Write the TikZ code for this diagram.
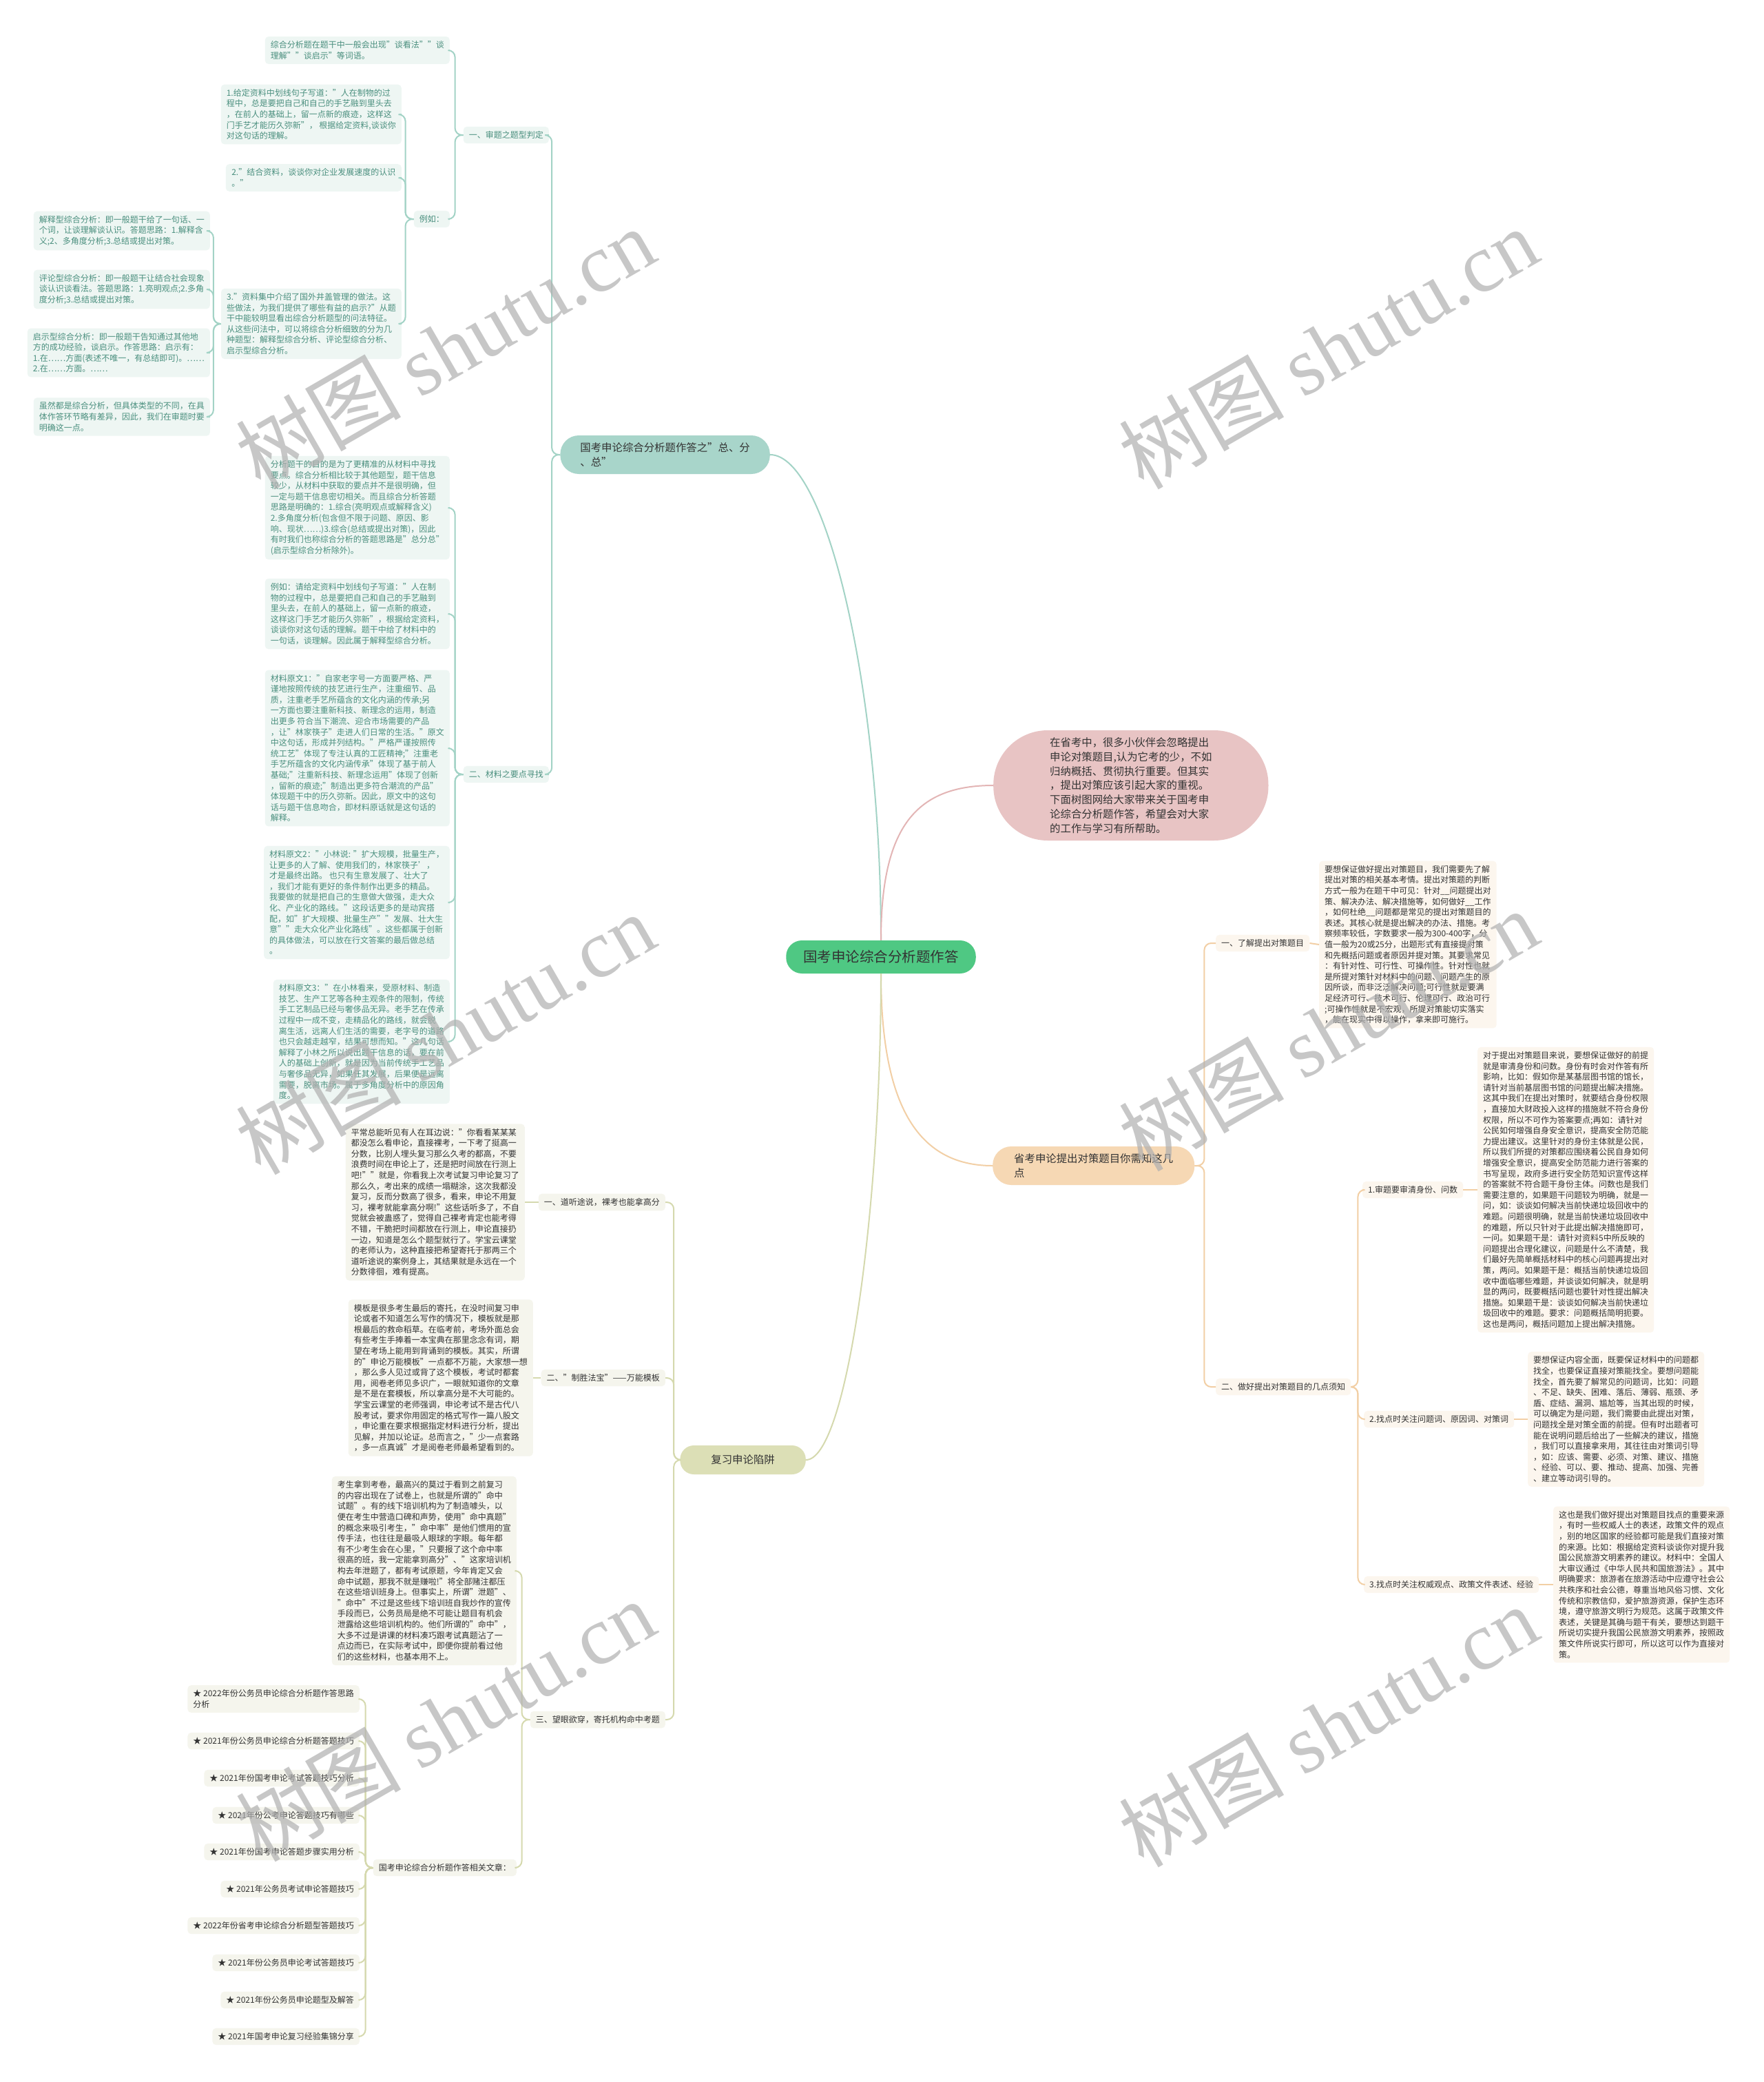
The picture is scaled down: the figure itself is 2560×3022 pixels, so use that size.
\documentclass[tikz,border=0pt]{standalone}
\usepackage{fontspec}
\setmainfont{Noto Sans CJK SC}
\newfontfamily\wmfont{Liberation Serif}

\definecolor{rootfill}{HTML}{4FC883}
\definecolor{tealmain}{HTML}{A8D5CA}
\definecolor{pinkmain}{HTML}{E8C4C4}
\definecolor{peachmain}{HTML}{F6D8B4}
\definecolor{olivemain}{HTML}{DCDFB6}
\definecolor{tealsub}{HTML}{EEF6F3}
\definecolor{olivesub}{HTML}{F5F5ED}
\definecolor{peachsub}{HTML}{FCF6EE}
\definecolor{tealline}{HTML}{A3D3C6}
\definecolor{pinkline}{HTML}{E3B5B5}
\definecolor{peachline}{HTML}{F2CFA5}
\definecolor{oliveline}{HTML}{D5D9AE}
\definecolor{tealtext}{HTML}{4A8F7E}
\definecolor{darktext}{HTML}{333333}
\definecolor{wmgray}{HTML}{B0B0B0}

\newcommand\leafsize{\fontsize{12}{15.6}\selectfont}
\newcommand\topicsize{\fontsize{15.4}{21}\selectfont}

\begin{document}
\begin{tikzpicture}[x=1pt,y=-1pt,
  leaf/.style={rounded corners=5pt,align=left,inner xsep=8pt,inner ysep=6.5pt,font=\leafsize},
  tealleaf/.style={leaf,fill=tealsub,text=tealtext},
  oliveleaf/.style={leaf,fill=olivesub,text=darktext},
  peachleaf/.style={leaf,fill=peachsub,text=darktext},
  topic/.style={align=left,text=darktext,font=\topicsize,inner xsep=29pt,inner ysep=9pt,minimum height=56pt,rounded corners=27pt},
  link/.style={line width=2pt,rounded corners=10pt},
  teallink/.style={link,draw=tealline},
  olivelink/.style={link,draw=oliveline},
  peachlink/.style={link,draw=peachline},
  wm/.style={rotate=30,text=wmgray,text opacity=0.7,font=\fontsize{120}{120}\selectfont}]
  \fill[white] (0,0) rectangle (2560,3022);
  \useasboundingbox (0,0) rectangle (2560,3022);

  % centro
  \node[fill=rootfill,text=darktext,font=\fontsize{20.5}{24}\selectfont,minimum height=48pt,inner xsep=25pt,inner ysep=6pt,rounded corners=23pt] (root) at (1279,1389) {国考申论综合分析题作答};

  % ramas principales
  \node[topic,fill=tealmain,anchor=east] (zfz) at (1118,660) {国考申论综合分析题作答之"总、分\\、总"};
  \node[fill=pinkmain,text=darktext,font=\fontsize{15.4}{20.8}\selectfont,align=left,inner xsep=82pt,inner ysep=9pt,minimum height=160pt,rounded corners=79pt,anchor=west] (yin) at (1442,1140) {在省考中，很多小伙伴会忽略提出\\申论对策题目,认为它考的少，不如\\归纳概括、贯彻执行重要。但其实\\，提出对策应该引起大家的重视。\\下面树图网给大家带来关于国考申\\论综合分析题作答，希望会对大家\\的工作与学习有所帮助。};
  \node[topic,fill=peachmain,anchor=west,inner xsep=31pt] (sk) at (1441,1692) {省考申论提出对策题目你需知这几\\点};
  \node[topic,fill=olivemain,minimum height=42pt,rounded corners=20pt,inner xsep=45pt,anchor=east] (fx) at (1170,2119) {复习申论陷阱};

  \draw[line width=2pt,tealline] (root.north) .. controls (1279,1000) and (1200,660) .. (zfz.east);
  \draw[line width=2pt,pinkline] (root.north) .. controls (1279,1200) and (1330,1140) .. (yin.west);
  \draw[line width=2pt,peachline] (root.south) .. controls (1279,1600) and (1330,1692) .. (sk.west);
  \draw[line width=2pt,oliveline] (root.south) .. controls (1279,1750) and (1230,2119) .. (fx.east);

  % rama verde: total, partes, total
  \node[tealleaf,anchor=east] (st) at (797,196) {一、审题之题型判定};
  \node[tealleaf,anchor=east] (cl) at (797,1124) {二、材料之要点寻找};
  \node[tealleaf,anchor=east] (st1) at (653,73) {综合分析题在题干中一般会出现"谈看法""谈\\理解""谈启示"等词语。};
  \node[tealleaf,anchor=east] (lr) at (653,318) {例如：};
  \node[tealleaf,anchor=east] (lr1) at (583,166) {1.给定资料中划线句子写道："人在制物的过\\程中，总是要把自己和自己的手艺融到里头去\\，在前人的基础上，留一点新的痕迹，这样这\\门手艺才能历久弥新"， 根据给定资料,谈谈你\\对这句话的理解。};
  \node[tealleaf,anchor=east,minimum width=255pt] (lr2) at (583,258) {2."结合资料，谈谈你对企业发展速度的认识\\。"};
  \node[tealleaf,anchor=east] (lr3) at (583,470) {3."资料集中介绍了国外井盖管理的做法。这\\些做法，为我们提供了哪些有益的启示?"从题\\干中能较明显看出综合分析题型的问法特征。\\从这些问法中，可以将综合分析细致的分为几\\种题型：解释型综合分析、评论型综合分析、\\启示型综合分析。};
  \node[tealleaf,anchor=east] (lx1) at (305,335) {解释型综合分析：即一般题干给了一句话、一\\个词，让谈理解谈认识。答题思路：1.解释含\\义;2、多角度分析;3.总结或提出对策。};
  \node[tealleaf,anchor=east] (lx2) at (305,420) {评论型综合分析：即一般题干让结合社会现象\\谈认识谈看法。答题思路：1.亮明观点;2.多角\\度分析;3.总结或提出对策。};
  \node[tealleaf,anchor=east] (lx3) at (305,512) {启示型综合分析：即一般题干告知通过其他地\\方的成功经验，谈启示。作答思路：启示有：\\1.在……方面(表述不唯一，有总结即可)。……\\2.在……方面。……};
  \node[tealleaf,anchor=east] (lx4) at (305,605) {虽然都是综合分析，但具体类型的不同，在具\\体作答环节略有差异，因此，我们在审题时要\\明确这一点。};
  \node[tealleaf,anchor=east] (cl1) at (653,737) {分析题干的目的是为了更精准的从材料中寻找\\要点。综合分析相比较于其他题型，题干信息\\较少，从材料中获取的要点并不是很明确，但\\一定与题干信息密切相关。而且综合分析答题\\思路是明确的：1.综合(亮明观点或解释含义)\\2.多角度分析(包含但不限于问题、原因、影\\响、现状……)3.综合(总结或提出对策)，因此\\有时我们也称综合分析的答题思路是"总分总"\\(启示型综合分析除外)。};
  \node[tealleaf,anchor=east] (cl2) at (653,891) {例如：请给定资料中划线句子写道："人在制\\物的过程中，总是要把自己和自己的手艺融到\\里头去，在前人的基础上，留一点新的痕迹，\\这样这门手艺才能历久弥新"，根据给定资料，\\谈谈你对这句话的理解。题干中给了材料中的\\一句话，谈理解。因此属于解释型综合分析。};
  \node[tealleaf,anchor=east] (cl3) at (653,1086) {材料原文1："自家老字号一方面要严格、严\\谨地按照传统的技艺进行生产，注重细节、品\\质，注重老手艺所蕴含的文化内涵的传承;另\\一方面也要注重新科技、新理念的运用，制造\\出更多 符合当下潮流、迎合市场需要的产品\\，让"林家筷子"走进人们日常的生活。"原文\\中这句话，形成并列结构。"严格严谨按照传\\统工艺"体现了专注认真的工匠精神;"注重老\\手艺所蕴含的文化内涵传承"体现了基于前人\\基础;"注重新科技、新理念运用"体现了创新\\，留新的痕迹;"制造出更多符合潮流的产品"\\体现题干中的历久弥新。因此，原文中的这句\\话与题干信息吻合，即材料原话就是这句话的\\解释。};
  \node[tealleaf,anchor=east] (cl4) at (653,1310) {材料原文2："小林说: "扩大规模，批量生产，\\让更多的人了解、使用我们的，林家筷子'，\\才是最终出路。 也只有生意发展了、壮大了\\，我们才能有更好的条件制作出更多的精品。\\我要做的就是把自己的生意做大做强，走大众\\化、产业化的路线。"这段话更多的是动宾搭\\配，如"扩大规模、批量生产""发展、壮大生\\意""走大众化产业化路线"。这些都属于创新\\的具体做法，可以放在行文答案的最后做总结\\。};
  \node[tealleaf,anchor=east] (cl5) at (653,1512) {材料原文3："在小林看来，受原材料、制造\\技艺、生产工艺等各种主观条件的限制，传统\\手工艺制品已经与奢侈品无异。老手艺在传承\\过程中一成不变，走精品化的路线，就会脱\\离生活，远离人们生活的需要，老字号的道路\\也只会越走越窄，结果可想而知。"这几句话\\解释了小林之所以说出题干信息的话，要在前\\人的基础上创新，就是因为当前传统手工艺品\\与奢侈品无异，如果任其发展，后果便是远离\\需要，脱离市场。属于多角度分析中的原因角\\度。};

  \draw[teallink] (zfz.west) -- ++(-12,0) |- (st.east);
  \draw[teallink] (zfz.west) -- ++(-12,0) |- (cl.east);
  \draw[teallink] (st.west) -- ++(-12,0) |- (st1.east);
  \draw[teallink] (st.west) -- ++(-12,0) |- (lr.east);
  \draw[teallink] (lr.west) -- ++(-12,0) |- (lr1.east);
  \draw[teallink] (lr.west) -- ++(-12,0) |- (lr2.east);
  \draw[teallink] (lr.west) -- ++(-12,0) |- (lr3.east);
  \draw[teallink] (lr3.west) -- ++(-11,0) |- (lx1.east);
  \draw[teallink] (lr3.west) -- ++(-11,0) |- (lx2.east);
  \draw[teallink] (lr3.west) -- ++(-11,0) |- (lx3.east);
  \draw[teallink] (lr3.west) -- ++(-11,0) |- (lx4.east);
  \draw[teallink] (cl.west) -- ++(-12,0) |- (cl1.east);
  \draw[teallink] (cl.west) -- ++(-12,0) |- (cl2.east);
  \draw[teallink] (cl.west) -- ++(-12,0) |- (cl3.east);
  \draw[teallink] (cl.west) -- ++(-12,0) |- (cl4.east);
  \draw[teallink] (cl.west) -- ++(-12,0) |- (cl5.east);

  % rama naranja: contramedidas
  \node[peachleaf,anchor=west] (sk1) at (1765,1369) {一、了解提出对策题目};
  \node[peachleaf,anchor=west] (sk1a) at (1915,1371) {要想保证做好提出对策题目，我们需要先了解\\提出对策的相关基本考情。提出对策题的判断\\方式一般为在题干中可见：针对\_\_问题提出对\\策、解决办法、解决措施等，如何做好\_\_工作\\，如何杜绝\_\_问题都是常见的提出对策题目的\\表述。其核心就是提出解决的办法、措施。考\\察频率较低，字数要求一般为300-400字，分\\值一般为20或25分，出题形式有直接提对策\\和先概括问题或者原因并提对策。其要求常见\\：有针对性、可行性、可操作性。针对性也就\\是所提对策针对材料中的问题、问题产生的原\\因所谈，而非泛泛解决问题;可行性就是要满\\足经济可行、技术可行、伦理可行、政治可行\\;可操作性就是不宏观，所提对策能切实落实\\，能在现实中得以操作，拿来即可施行。};
  \node[peachleaf,anchor=west] (sk2) at (1765,2013) {二、做好提出对策题目的几点须知};
  \node[peachleaf,anchor=west] (sk2a) at (1978,1727) {1.审题要审清身份、问数};
  \node[peachleaf,anchor=west] (sk2a1) at (2145,1727) {对于提出对策题目来说，要想保证做好的前提\\就是审清身份和问数。身份有时会对作答有所\\影响，比如：假如你是某基层图书馆的馆长，\\请针对当前基层图书馆的问题提出解决措施。\\这其中我们在提出对策时，就要结合身份权限\\，直接加大财政投入这样的措施就不符合身份\\权限，所以不可作为答案要点;再如：请针对\\公民如何增强自身安全意识，提高安全防范能\\力提出建议。这里针对的身份主体就是公民，\\所以我们所提的对策都应围绕着公民自身如何\\增强安全意识，提高安全防范能力进行答案的\\书写呈现，政府多进行安全防范知识宣传这样\\的答案就不符合题干身份主体。问数也是我们\\需要注意的，如果题干问题较为明确，就是一\\问，如：谈谈如何解决当前快递垃圾回收中的\\难题。问题很明确，就是当前快递垃圾回收中\\的难题，所以只针对于此提出解决措施即可，\\一问。如果题干是：请针对资料5中所反映的\\问题提出合理化建议，问题是什么不清楚，我\\们最好先简单概括材料中的核心问题再提出对\\策，两问。如果题干是：概括当前快递垃圾回\\收中面临哪些难题，并谈谈如何解决，就是明\\显的两问，既要概括问题也要针对性提出解决\\措施。如果题干是：谈谈如何解决当前快递垃\\圾回收中的难题。要求：问题概括简明扼要。\\这也是两问，概括问题加上提出解决措施。};
  \node[peachleaf,anchor=west] (sk2b) at (1980,2060) {2.找点时关注问题词、原因词、对策词};
  \node[peachleaf,anchor=west] (sk2b1) at (2218,2060) {要想保证内容全面，既要保证材料中的问题都\\找全，也要保证直接对策能找全。要想问题能\\找全，首先要了解常见的问题词，比如：问题\\、不足、缺失、困难、落后、薄弱、瓶颈、矛\\盾、症结、漏洞、尴尬等，当其出现的时候，\\可以确定为是问题，我们需要由此提出对策，\\问题找全是对策全面的前提。但有时出题者可\\能在说明问题后给出了一些解决的建议，措施\\，我们可以直接拿来用，其往往由对策词引导\\，如：应该、需要、必须、对策、建议、措施\\、经验、可以、要、推动、提高、加强、完善\\、建立等动词引导的。};
  \node[peachleaf,anchor=west] (sk2c) at (1980,2300) {3.找点时关注权威观点、政策文件表述、经验};
  \node[peachleaf,anchor=west] (sk2c1) at (2255,2300) {这也是我们做好提出对策题目找点的重要来源\\，有时一些权威人士的表述，政策文件的观点\\，别的地区国家的经验都可能是我们直接对策\\的来源。比如：根据给定资料谈谈你对提升我\\国公民旅游文明素养的建议。材料中：全国人\\大审议通过《中华人民共和国旅游法》。其中\\明确要求：旅游者在旅游活动中应遵守社会公\\共秩序和社会公德，尊重当地风俗习惯、文化\\传统和宗教信仰，爱护旅游资源，保护生态环\\境，遵守旅游文明行为规范。这属于政策文件\\表述，关键是其确与题干有关，要想达到题干\\所说切实提升我国公民旅游文明素养，按照政\\策文件所说实行即可，所以这可以作为直接对\\策。};

  \draw[peachlink] (sk.east) -- ++(14,0) |- (sk1.west);
  \draw[peachlink] (sk.east) -- ++(14,0) |- (sk2.west);
  \draw[peachlink] (sk1.east) -- (sk1a.west);
  \draw[peachlink] (sk2.east) -- ++(10,0) |- (sk2a.west);
  \draw[peachlink] (sk2.east) -- ++(10,0) |- (sk2b.west);
  \draw[peachlink] (sk2.east) -- ++(10,0) |- (sk2c.west);
  \draw[peachlink] (sk2a.east) -- (sk2a1.west);
  \draw[peachlink] (sk2b.east) -- (sk2b1.west);
  \draw[peachlink] (sk2c.east) -- (sk2c1.west);

  % rama oliva: trampas del repaso
  \node[oliveleaf,anchor=east] (fx1) at (966,1745) {一、道听途说，裸考也能拿高分};
  \node[oliveleaf,anchor=east] (fx1a) at (762,1745) {平常总能听见有人在耳边说："你看看某某某\\都没怎么看申论，直接裸考，一下考了挺高一\\分数，比别人埋头复习那么久考的都高，不要\\浪费时间在申论上了，还是把时间放在行测上\\吧!""就是，你看我上次考试复习申论复习了\\那么久，考出来的成绩一塌糊涂，这次我都没\\复习，反而分数高了很多，看来，申论不用复\\习，裸考就能拿高分啊!"这些话听多了，不自\\觉就会被蛊惑了，觉得自己裸考肯定也能考得\\不错，干脆把时间都放在行测上，申论直接扔\\一边，知道是怎么个题型就行了。学宝云课堂\\的老师认为，这种直接把希望寄托于那两三个\\道听途说的案例身上，其结果就是永远在一个\\分数徘徊，难有提高。};
  \node[oliveleaf,anchor=east] (fx2) at (966,2000) {二、"制胜法宝"——万能模板};
  \node[oliveleaf,anchor=east] (fx2a) at (774,2000) {模板是很多考生最后的寄托，在没时间复习申\\论或者不知道怎么写作的情况下，模板就是那\\根最后的救命稻草。在临考前，考场外面总会\\有些考生手捧着一本宝典在那里念念有词，期\\望在考场上能用到背诵到的模板。其实，所谓\\的"申论万能模板"一点都不万能，大家想一想\\，那么多人见过或背了这个模板，考试时都套\\用，阅卷老师见多识广，一眼就知道你的文章\\是不是在套模板，所以拿高分是不大可能的。\\学宝云课堂的老师强调，申论考试不是古代八\\股考试，要求你用固定的格式写作一篇八股文\\，申论重在要求根据指定材料进行分析，提出\\见解，并加以论证。总而言之，"少一点套路\\，多一点真诚"才是阅卷老师最希望看到的。};
  \node[oliveleaf,anchor=east] (fx3) at (966,2496) {三、望眼欲穿，寄托机构命中考题};
  \node[oliveleaf,anchor=east] (fx3a) at (750,2280) {考生拿到考卷，最高兴的莫过于看到之前复习\\的内容出现在了试卷上，也就是所谓的"命中\\试题"。有的线下培训机构为了制造噱头，以\\便在考生中营造口碑和声势，使用"命中真题"\\的概念来吸引考生，"命中率"是他们惯用的宣\\传手法，也往往是最吸人眼球的字眼。每年都\\有不少考生会在心里，"只要报了这个命中率\\很高的班，我一定能拿到高分"、"这家培训机\\构去年泄题了，都有考试原题，今年肯定又会\\命中试题，那我不就是赚啦!"将全部赌注都压\\在这些培训班身上。但事实上，所谓"泄题"、\\"命中"不过是这些线下培训班自我炒作的宣传\\手段而已，公务员局是绝不可能让题目有机会\\泄露给这些培训机构的。他们所谓的"命中"，\\大多不过是讲课的材料凑巧跟考试真题沾了一\\点边而已，在实际考试中，即便你提前看过他\\们的这些材料，也基本用不上。};
  \node[oliveleaf,anchor=east] (wz) at (750,2711) {国考申论综合分析题作答相关文章：};
  \node[oliveleaf,anchor=east] (wz1) at (522,2466) {★ 2022年份公务员申论综合分析题作答思路\\分析};
  \node[oliveleaf,anchor=east] (wz2) at (522,2527) {★ 2021年份公务员申论综合分析题答题技巧};
  \node[oliveleaf,anchor=east] (wz3) at (522,2581) {★ 2021年份国考申论考试答题技巧分析};
  \node[oliveleaf,anchor=east] (wz4) at (522,2635) {★ 2021年份公考申论答题技巧有哪些};
  \node[oliveleaf,anchor=east] (wz5) at (522,2688) {★ 2021年份国考申论答题步骤实用分析};
  \node[oliveleaf,anchor=east] (wz6) at (522,2742) {★ 2021年公务员考试申论答题技巧};
  \node[oliveleaf,anchor=east] (wz7) at (522,2795) {★ 2022年份省考申论综合分析题型答题技巧};
  \node[oliveleaf,anchor=east] (wz8) at (522,2849) {★ 2021年份公务员申论考试答题技巧};
  \node[oliveleaf,anchor=east] (wz9) at (522,2903) {★ 2021年份公务员申论题型及解答};
  \node[oliveleaf,anchor=east] (wz10) at (522,2956) {★ 2021年国考申论复习经验集锦分享};

  \draw[olivelink] (fx.west) -- ++(-9,0) |- (fx1.east);
  \draw[olivelink] (fx.west) -- ++(-9,0) |- (fx2.east);
  \draw[olivelink] (fx.west) -- ++(-9,0) |- (fx3.east);
  \draw[olivelink] (fx1.west) -- (fx1a.east);
  \draw[olivelink] (fx2.west) -- (fx2a.east);
  \draw[olivelink] (fx3.west) -- ++(-12,0) |- (fx3a.east);
  \draw[olivelink] (fx3.west) -- ++(-12,0) |- (wz.east);
  \draw[olivelink] (wz.west) -- ++(-11,0) |- (wz1.east);
  \draw[olivelink] (wz.west) -- ++(-11,0) |- (wz2.east);
  \draw[olivelink] (wz.west) -- ++(-11,0) |- (wz3.east);
  \draw[olivelink] (wz.west) -- ++(-11,0) |- (wz4.east);
  \draw[olivelink] (wz.west) -- ++(-11,0) |- (wz5.east);
  \draw[olivelink] (wz.west) -- ++(-11,0) |- (wz6.east);
  \draw[olivelink] (wz.west) -- ++(-11,0) |- (wz7.east);
  \draw[olivelink] (wz.west) -- ++(-11,0) |- (wz8.east);
  \draw[olivelink] (wz.west) -- ++(-11,0) |- (wz9.east);
  \draw[olivelink] (wz.west) -- ++(-11,0) |- (wz10.east);

  % marcas de agua
  \node[wm] (wm1) at (646,505) {树图 {\wmfont shutu.cn}};
  \node[wm] (wm2) at (1928,505) {树图 {\wmfont shutu.cn}};
  \node[wm] (wm3) at (646,1500) {树图 {\wmfont shutu.cn}};
  \node[wm] (wm4) at (1928,1495) {树图 {\wmfont shutu.cn}};
  \node[wm] (wm5) at (646,2497) {树图 {\wmfont shutu.cn}};
  \node[wm] (wm6) at (1928,2505) {树图 {\wmfont shutu.cn}};
\end{tikzpicture}
\end{document}
